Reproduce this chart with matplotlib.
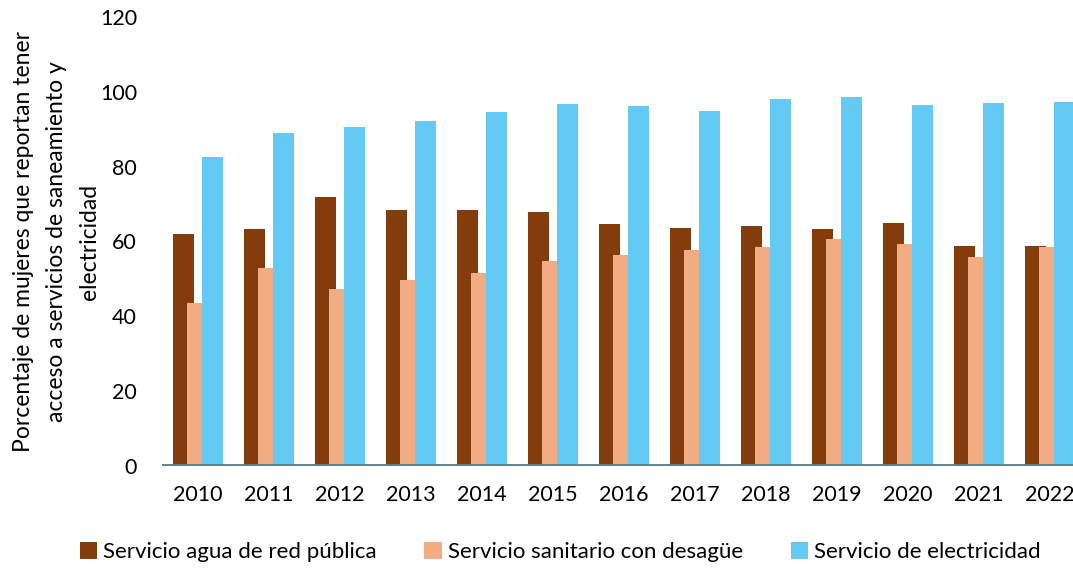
import matplotlib.pyplot as plt
import numpy as np

plt.rcParams['font.family'] = ['Lato', 'DejaVu Sans']

years = ['2010', '2011', '2012', '2013', '2014', '2015', '2016',
         '2017', '2018', '2019', '2020', '2021', '2022']
agua = [62.0, 63.3, 71.9, 68.3, 68.3, 68.0, 64.6, 63.6, 64.1, 63.3, 64.9, 58.8, 58.8]
sanitario = [43.6, 53.0, 47.2, 49.6, 51.6, 54.9, 56.3, 57.8, 58.6, 60.7, 59.2, 55.8, 58.5]
electricidad = [82.7, 88.9, 90.6, 92.2, 94.6, 96.7, 96.1, 95.0, 98.1, 98.6, 96.4, 97.0, 97.4]

labels = ['Servicio agua de red pública', 'Servicio sanitario con desagüe',
          'Servicio de electricidad']
colors = ['#843C0C', '#F1AC84', '#63CBF3']

fig = plt.figure(figsize=(10.73, 5.68), dpi=100)
ax = fig.add_axes([0.151, 0.1796, 0.849, 0.7905])

x = np.arange(len(years))
w = 0.296
step = 0.204
for i, (vals, c, lab) in enumerate(zip([agua, sanitario, electricidad], colors, labels)):
    ax.bar(x + (i - 1) * step, vals, width=w, color=c, label=lab, zorder=2 + i)

ax.axhline(0, color='#5F7F8C', lw=3.5, zorder=10)
ax.set_xlim(-0.5, 12.33)
ax.set_ylim(0, 120)
ax.set_yticks(range(0, 121, 20))
ax.set_xticks(x)
ax.set_xticklabels(years)
for s in ax.spines.values():
    s.set_visible(False)
ax.tick_params(axis='both', length=0, labelsize=15.5)
ax.tick_params(axis='y', pad=18)
ax.tick_params(axis='x', pad=14)

ax.set_ylabel('Porcentaje de mujeres que reportan tener\nacceso a servicios de saneamiento y\nelectricidad',
              fontsize=16.5, linespacing=1.7, labelpad=0)

fig.legend(loc='center', bbox_to_anchor=(0.522, 0.028), ncol=3, frameon=False,
           fontsize=16, handlelength=0.8, handleheight=0.8, handletextpad=0.25,
           columnspacing=2.15)

fig.savefig('out.png', dpi=100)
